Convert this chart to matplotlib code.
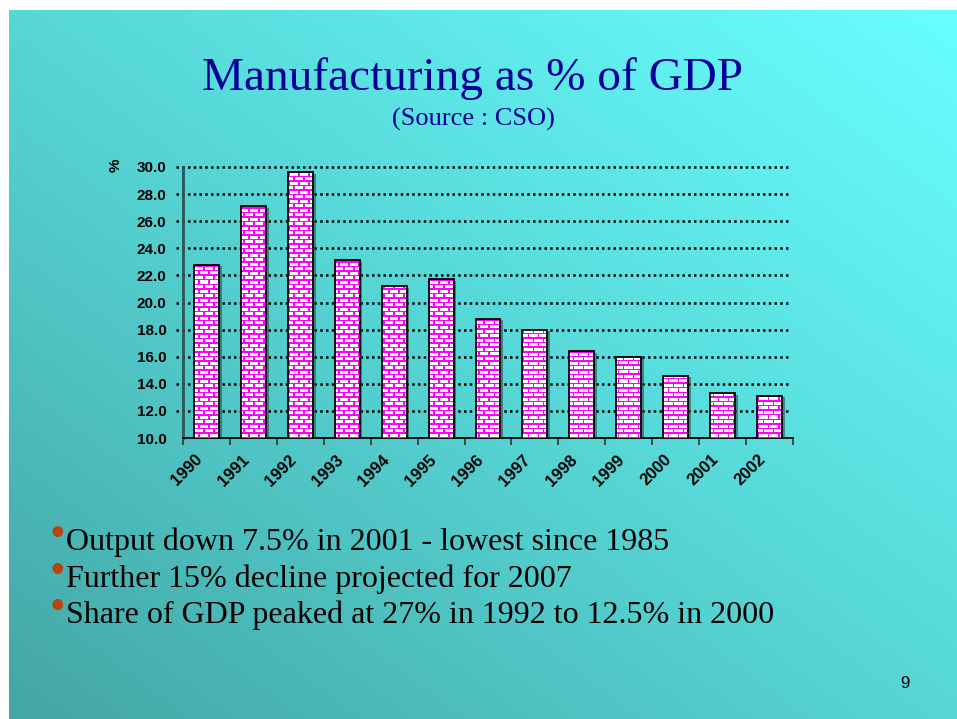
import numpy as np
import matplotlib
matplotlib.use("Agg")
import matplotlib.pyplot as plt
import matplotlib.patheffects as pe
from matplotlib.colors import LinearSegmentedColormap
from matplotlib.transforms import ScaledTranslation

years = ["1990", "1991", "1992", "1993", "1994", "1995", "1996",
         "1997", "1998", "1999", "2000", "2001", "2002"]
share = [22.8, 27.1, 29.6, 23.1, 21.2, 21.7, 18.8,
         18.0, 16.4, 16.0, 14.6, 13.3, 13.1]
y_ticks = [10.0, 12.0, 14.0, 16.0, 18.0, 20.0, 22.0, 24.0, 26.0, 28.0, 30.0]

title = "Manufacturing as % of GDP"
subtitle = "(Source : CSO)"
bullets = ["Output down 7.5% in 2001 - lowest since 1985",
           "Further 15% decline projected for 2007",
           "Share of GDP peaked at 27% in 1992 to 12.5% in 2000"]
page_no = "9"

W, H = 957, 719
fig = plt.figure(figsize=(W / 100, H / 100), dpi=100, facecolor="white")

# slide background: diagonal teal gradient, white strip at top/left
bg = fig.add_axes([9 / W, 0, (W - 9) / W, (H - 10) / H])
bg.axis("off")
gx, gy = np.meshgrid(np.linspace(0, 1, 300), np.linspace(0, 1, 300))
grad = (gx + gy) / 2
cmap = LinearSegmentedColormap.from_list("slide", ["#44a6a6", "#57d6d6", "#68ffff"])
bg.imshow(grad, cmap=cmap, origin="lower", extent=[0, 1, 0, 1], aspect="auto")

ax = fig.add_axes([183 / W, 1 - 438 / H, 610 / W, 271 / H])
ax.patch.set_alpha(0)
x = np.arange(len(years))

# brick texture (2x pixel resolution of the axes), clipped to each bar
th, tw = 271 * 2, 610 * 2
rr, cc = np.mgrid[0:th, 0:tw]
course = rr // 9
mortar = (rr % 9 < 3) | (((cc + (course % 2) * 10) % 20) < 3)
tex = np.ones((th, tw, 3))
tex[mortar] = [1.0, 0.0, 1.0]

bars = ax.bar(x, share, width=0.53, color="white", edgecolor="none", zorder=3,
              path_effects=[pe.SimplePatchShadow(offset=(2, -1), shadow_rgbFace="#2a4f4f",
                                                 alpha=0.6), pe.Normal()])
for b in bars:
    im = ax.imshow(tex, extent=[-0.5, len(years) - 0.5, y_ticks[0], y_ticks[-1]],
                   aspect="auto", interpolation="nearest", zorder=3.5)
    im.set_clip_path(b)
ax.bar(x, share, width=0.53, color="none", edgecolor="black", linewidth=1.3, zorder=4)

ax.set_xlim(-0.5, len(years) - 0.5)
ax.set_ylim(y_ticks[0], y_ticks[-1])
ax.set_yticks(y_ticks)
ax.set_yticklabels([f"{v:.1f}" for v in y_ticks], fontsize=11, fontweight="bold",
                   family="Liberation Sans")
ax.tick_params(axis="y", length=0, pad=12)

for v in y_ticks[1:]:
    ax.axhline(v, xmin=-0.012, xmax=0.995, color="black", lw=1.8,
               ls=(0, (1, 1.3)), clip_on=False, zorder=1)

ax.set_xticks(x)
ax.set_xticklabels(years, rotation=45, ha="right", va="top", rotation_mode="anchor",
                   fontsize=12, fontweight="bold", family="Liberation Sans")
ax.tick_params(axis="x", length=0, pad=10)
shift = ScaledTranslation(-0.12, 0, fig.dpi_scale_trans)
for lbl in ax.get_xticklabels():
    lbl.set_transform(lbl.get_transform() + shift)
ax.set_xticks(np.arange(len(years) + 1) - 0.5, minor=True)
ax.tick_params(axis="x", which="minor", length=5, width=1.2, color="#333333")

for s in ["top", "right"]:
    ax.spines[s].set_visible(False)
ax.spines["left"].set_color("#2d5555")
ax.spines["left"].set_linewidth(2)
ax.spines["bottom"].set_color("black")
ax.spines["bottom"].set_linewidth(1.3)

fig.text(116 / W, 1 - 165 / H, "%", rotation=90, ha="center", va="center",
         fontsize=11, fontweight="bold", family="Liberation Sans")

fig.text(473 / W, 1 - 90 / H, title, ha="center", va="baseline", color="#000099",
         fontsize=34, family="Liberation Serif")
fig.text(473 / W, 1 - 126 / H, subtitle, ha="center", va="baseline", color="#000099",
         fontsize=19, family="Liberation Serif")

for i, line in enumerate(bullets):
    base = 550 + i * 36.5
    fig.text(49 / W, 1 - (base - 4) / H, "\u2022", ha="left", va="baseline",
             color="#b84510", fontsize=32, family="Liberation Serif")
    fig.text(66 / W, 1 - base / H, line, ha="left", va="baseline", color="black",
             fontsize=23, family="Liberation Serif")

fig.text(905 / W, 1 - 688 / H, page_no, ha="center", va="baseline",
         fontsize=12, family="Liberation Sans")

fig.savefig("out.png", dpi=100, facecolor="white")
